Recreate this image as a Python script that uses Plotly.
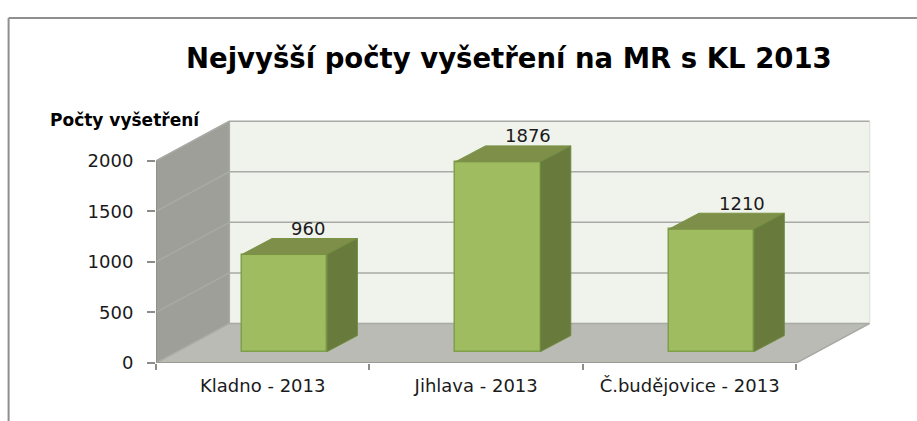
import plotly.graph_objects as go

categories = ["Kladno - 2013", "Jihlava - 2013", "Č.budějovice - 2013"]
values = [960, 1876, 1210]
y_ticks = [0, 500, 1000, 1500, 2000]
title_text = "Nejvyšší počty vyšetření na MR s KL 2013"
y_title = "Počty vyšetření"

W, H = 917, 421
PX_L, PX_R, PX_T, PX_B = 155.5, 880.0, 100.0, 362.7
PX_PER_CAT = 213.6
PX_PER_UNIT = 0.101
WALL_DX = 73.4 / PX_PER_CAT
WALL_DY = 39.5 / PX_PER_UNIT
BAR_DX = 30.3 / PX_PER_CAT
BAR_DY = 16.0 / PX_PER_UNIT
BAR_BASE = 11.4 / PX_PER_UNIT
BAR_SHIFT = 21.7 / PX_PER_CAT
BAR_W = 85.4 / PX_PER_CAT
LABEL_NUDGE = [-7, 0, 0]

x0, x1 = -0.5, len(categories) - 0.5
ymax_tick = max(y_ticks)
xs = list(range(len(categories)))
bar_xs = [i + BAR_SHIFT for i in xs]

GRID = "#a9aaa5"
shapes = []


def poly(pts, fill, line=None, width=1):
    path = "M" + " L".join(f"{a},{b}" for a, b in pts) + " Z"
    return dict(type="path", path=path, xref="x", yref="y", fillcolor=fill,
                line=dict(color=line or fill, width=width), layer="below")


def seg(a, b, c, d, color=GRID, width=1.5):
    return dict(type="line", xref="x", yref="y", x0=a, y0=b, x1=c, y1=d,
                line=dict(color=color, width=width), layer="below")


# back wall, side wall, floor
shapes.append(poly([(x0 + WALL_DX, WALL_DY), (x1 + WALL_DX, WALL_DY),
                    (x1 + WALL_DX, ymax_tick + WALL_DY), (x0 + WALL_DX, ymax_tick + WALL_DY)],
                   "#f0f2ec"))
shapes.append(poly([(x0, 0), (x0 + WALL_DX, WALL_DY),
                    (x0 + WALL_DX, ymax_tick + WALL_DY), (x0, ymax_tick)], "#9d9f98"))
shapes.append(poly([(x0, 0), (x1, 0), (x1 + WALL_DX, WALL_DY), (x0 + WALL_DX, WALL_DY)], "#b9bbb4"))
# gridlines following the walls
for t in y_ticks:
    shapes.append(seg(x0, t, x0 + WALL_DX, t + WALL_DY))
    shapes.append(seg(x0 + WALL_DX, t + WALL_DY, x1 + WALL_DX, t + WALL_DY))
shapes.append(seg(x1, 0, x1 + WALL_DX, WALL_DY))
shapes.append(seg(x0 + WALL_DX, WALL_DY, x0 + WALL_DX, ymax_tick + WALL_DY))
shapes.append(seg(x1 + WALL_DX, WALL_DY, x1 + WALL_DX, ymax_tick + WALL_DY, "#dcdeda", 1))
shapes.append(seg(x0, 0, x0, ymax_tick, "#8c8c88"))
shapes.append(seg(x0, 0, x1, 0, "#9a9a96", 2))

# outer frame of the chart (paper coordinates derived from pixels)
pw, ph = PX_R - PX_L, PX_B - PX_T


def px(p):
    return (p - PX_L) / pw


def py(p):
    return 1 - (p - PX_T) / ph


FRAME = "#8f8f8f"
shapes.append(dict(type="line", xref="paper", yref="paper", x0=px(8), x1=px(917), y0=py(18), y1=py(18),
                   line=dict(color=FRAME, width=2)))
shapes.append(dict(type="line", xref="paper", yref="paper", x0=px(8), x1=px(8), y0=py(18), y1=py(421),
                   line=dict(color=FRAME, width=2)))

fig = go.Figure()
# bar fronts
fig.add_trace(go.Bar(x=bar_xs, y=values, base=BAR_BASE, width=BAR_W,
                     marker=dict(color="#9fbd60", line=dict(color="#7f9f4b", width=1.5)),
                     showlegend=False, hoverinfo="skip"))
# bar top and side faces, derived from the data
for i, v in zip(bar_xs, values):
    l, r = i - BAR_W / 2, i + BAR_W / 2
    b, t = BAR_BASE, BAR_BASE + v
    fig.add_trace(go.Scatter(x=[l, r, r + BAR_DX, l + BAR_DX, l], y=[t, t, t + BAR_DY, t + BAR_DY, t],
                             mode="lines", fill="toself", fillcolor="#7d8f49",
                             line=dict(color="#7a9345", width=1), showlegend=False, hoverinfo="skip"))
    fig.add_trace(go.Scatter(x=[r, r + BAR_DX, r + BAR_DX, r, r], y=[b, b + BAR_DY, t + BAR_DY, t, b],
                             mode="lines", fill="toself", fillcolor="#687a3c",
                             line=dict(color="#6f8a3f", width=1), showlegend=False, hoverinfo="skip"))

annotations = []
LABEL_FONT = dict(family="DejaVu Sans", size=18, color="#1a1a1a")
for i, v, n in zip(bar_xs, values, LABEL_NUDGE):
    annotations.append(dict(x=i + BAR_DX, y=BAR_BASE + v + BAR_DY, text=str(v), showarrow=False,
                            xref="x", yref="y", xanchor="center", yanchor="middle",
                            xshift=n, yshift=10, font=LABEL_FONT))
annotations.append(dict(xref="paper", yref="paper", x=px(508.5), y=py(58), text=title_text, showarrow=False,
                        xanchor="center", yanchor="middle",
                        font=dict(family="DejaVu Sans", size=27.5, color="#000000", weight="bold")))
annotations.append(dict(xref="paper", yref="paper", x=px(124), y=py(120), text=y_title, showarrow=False,
                        xanchor="center", yanchor="middle",
                        font=dict(family="DejaVu Sans", size=17, color="#000000", weight="bold")))

fig.update_layout(
    width=W, height=H, autosize=False, bargap=0,
    margin=dict(l=PX_L, r=W - PX_R, t=PX_T, b=H - PX_B, pad=0),
    paper_bgcolor="white", plot_bgcolor="white",
    shapes=shapes, annotations=annotations, showlegend=False,
    xaxis=dict(range=[x0, x0 + pw / PX_PER_CAT], tickmode="array", tickvals=xs, ticktext=categories,
               ticks="", showgrid=False, zeroline=False, showline=False,
               tickfont=dict(family="DejaVu Sans", size=18, color="#1a1a1a"),
               ticklabelstandoff=10,
               minor=dict(tickmode="array", tickvals=[x0 + k for k in range(len(categories) + 1)],
                          ticks="outside", ticklen=6, tickwidth=1.5, tickcolor="#8c8c88", showgrid=False)),
    yaxis=dict(range=[0, ph / PX_PER_UNIT], tickmode="array", tickvals=y_ticks, ticks="outside", ticklen=8,
               tickwidth=1.5, tickcolor="#8c8c88", showgrid=False, zeroline=False, showline=False,
               ticklabelstandoff=10,
               tickfont=dict(family="DejaVu Sans", size=18, color="#1a1a1a")),
)
fig.write_html("out.html", config=dict(displayModeBar=False),
               post_script="document.body.style.margin='0';document.body.style.overflow='hidden';")
